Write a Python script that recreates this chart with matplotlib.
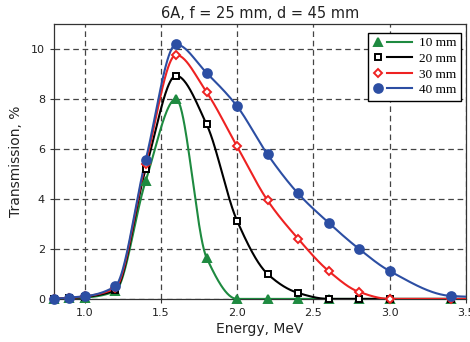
import numpy as np
import matplotlib
matplotlib.use("Agg")
import matplotlib.pyplot as plt
from matplotlib.lines import Line2D
from matplotlib.legend_handler import HandlerBase

energy = [0.8, 0.9, 1.0, 1.2, 1.4, 1.6, 1.8, 2.0, 2.2, 2.4, 2.6, 2.8, 3.0, 3.4]
t10 = [0.0, 0.02, 0.05, 0.30, 4.70, 8.00, 1.65, 0.0, 0.0, 0.0, 0.0, 0.0, 0.0, 0.0]
t20 = [0.0, 0.03, 0.08, 0.35, 5.18, 8.93, 6.99, 3.13, 1.00, 0.24, 0.0, 0.0, 0.0, 0.0]
t30 = [0.0, 0.04, 0.10, 0.42, 5.40, 9.76, 8.27, 6.10, 3.94, 2.41, 1.12, 0.28, 0.0, 0.0]
t40 = [0.0, 0.05, 0.10, 0.50, 5.54, 10.18, 9.04, 7.71, 5.78, 4.22, 3.05, 2.00, 1.12, 0.12]
labels = ["10 mm", "20 mm", "30 mm", "40 mm"]
title = "6A, f = 25 mm, d = 45 mm"


def pchip(x, y, xs):
    x = np.asarray(x, float); y = np.asarray(y, float)
    h = np.diff(x); d = np.diff(y) / h
    n = len(x); m = np.zeros(n)
    for k in range(1, n - 1):
        if d[k - 1] * d[k] > 0:
            w1 = 2 * h[k] + h[k - 1]; w2 = h[k] + 2 * h[k - 1]
            m[k] = (w1 + w2) / (w1 / d[k - 1] + w2 / d[k])
    m[0] = d[0]; m[-1] = d[-1]
    idx = np.clip(np.searchsorted(x, xs) - 1, 0, n - 2)
    t = (xs - x[idx]) / h[idx]
    h00 = 2 * t**3 - 3 * t**2 + 1; h10 = t**3 - 2 * t**2 + t
    h01 = -2 * t**3 + 3 * t**2; h11 = t**3 - t**2
    return h00 * y[idx] + h10 * h[idx] * m[idx] + h01 * y[idx + 1] + h11 * h[idx] * m[idx + 1]


class MarkerThenLine(HandlerBase):
    def create_artists(self, legend, orig, xdescent, ydescent, width, height, fontsize, trans):
        yc = height / 2 - ydescent
        mk = Line2D([-xdescent + 0.12 * width], [yc], ls="none", marker=orig.get_marker(),
                    mfc=orig.get_markerfacecolor(), mec=orig.get_markeredgecolor(),
                    mew=orig.get_markeredgewidth(), ms=orig.get_markersize())
        ln = Line2D([-xdescent + 0.36 * width, -xdescent + width], [yc, yc],
                    color=orig.get_color(), lw=orig.get_linewidth())
        mk.set_transform(trans); ln.set_transform(trans)
        return [mk, ln]


fig = plt.figure(figsize=(4.7, 3.42), dpi=100)
ax = fig.add_axes([0.115, 0.126, 0.876, 0.804])

styles = [
    dict(color="#1e8a40", marker="^", mfc="#1e8a40", mec="#1e8a40", ms=5.5),
    dict(color="black", marker="s", mfc="white", mec="black", ms=5.0),
    dict(color="#ee2222", marker="D", mfc="white", mec="#ee2222", ms=3.8),
    dict(color="#2c4ea3", marker="o", mfc="#2c4ea3", mec="#2c4ea3", ms=6.3),
]
series = [t10, t20, t30, t40]
xs = np.linspace(0.8, 3.5, 600)
x_ext = energy + [3.6]
handles = []
for vals, st in zip(series, styles):
    v_ext = list(vals) + [max(vals[-1] - 0.05, 0.0)]
    ys = pchip(x_ext, v_ext, xs)
    ax.plot(xs, ys, color=st["color"], lw=1.5, zorder=3)
for vals, st in zip(series, styles):
    ax.plot(energy, vals, ls="none", marker=st["marker"], mfc=st["mfc"], mec=st["mec"],
            mew=1.4, ms=st["ms"], zorder=4, clip_on=False)
    handles.append(Line2D([], [], color=st["color"], lw=1.5, marker=st["marker"],
                          mfc=st["mfc"], mec=st["mec"], mew=1.4, ms=st["ms"]))

ax.set_xlim(0.8, 3.5)
ax.set_ylim(0, 11)
ax.set_xticks([1.0, 1.5, 2.0, 2.5, 3.0, 3.5])
ax.set_xticklabels(["1.0", "1.5", "2.0", "2.5", "3.0", "3.5"])
ax.set_yticks([0, 2, 4, 6, 8, 10])
ax.tick_params(labelsize=8, length=3, color="#333333", labelcolor="#222222")
ax.grid(True, color="#444444", ls=(0, (4.5, 3)), lw=0.9)
ax.set_axisbelow(True)
for s in ax.spines.values():
    s.set_color("#333333")
    s.set_linewidth(0.9)

ax.set_xlabel("Energy, MeV", fontsize=10, color="#222222", labelpad=3)
ax.set_ylabel("Transmission, %", fontsize=10, color="#222222", labelpad=6)
ax.set_title(title, fontsize=10.5, color="#222222", pad=4)

leg = ax.legend(handles, labels, loc="upper right", bbox_to_anchor=(0.995, 0.978),
                prop={"family": "Liberation Serif", "size": 9.5},
                handler_map={Line2D: MarkerThenLine()},
                handlelength=3.0, handletextpad=0.5, borderpad=0.35, labelspacing=0.25,
                borderaxespad=0.2,
                fancybox=False, framealpha=1, edgecolor="black")
leg.get_frame().set_linewidth(1.0)

fig.savefig("out.png", dpi=100)
